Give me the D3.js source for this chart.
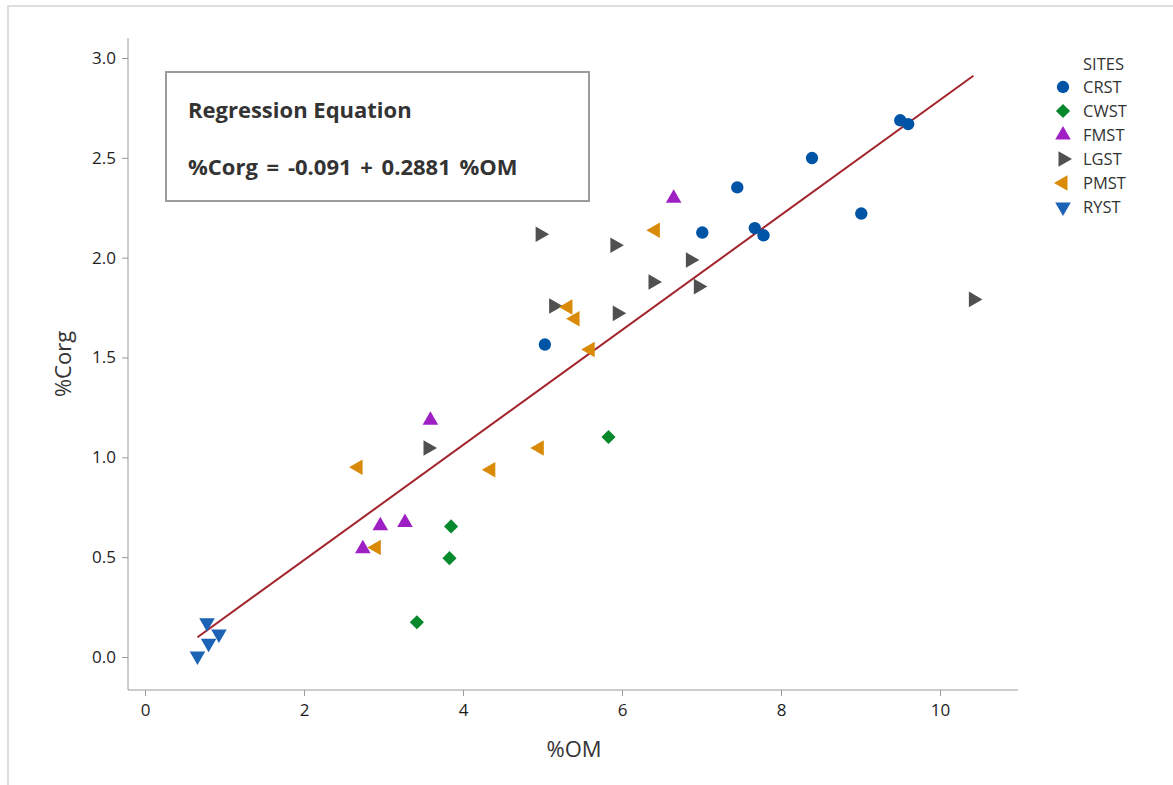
<!DOCTYPE html>
<html>
<head>
<meta charset="utf-8">
<script src="https://cdn.jsdelivr.net/npm/d3@7"></script>
<style>
  body { margin: 0; background: #fff; }
  svg { font-family: "Open Sans", "Noto Sans", sans-serif; }
</style>
</head>
<body>
<svg width="1173" height="785"></svg>
<script>
// data
var sites = ["CRST", "CWST", "FMST", "LGST", "PMST", "RYST"];
var siteColors = ["#0054a6", "#06882c", "#9e1fc4", "#505050", "#d98a06", "#1c62b5"];

var crstOM   = [9.50, 9.60, 8.39, 7.45, 9.01, 7.01, 7.67, 7.78, 5.03];
var crstCorg = [2.688, 2.669, 2.499, 2.352, 2.221, 2.126, 2.148, 2.112, 1.565];
var cwstOM   = [5.83, 3.85, 3.83, 3.42];
var cwstCorg = [1.102, 0.654, 0.495, 0.174];
var fmstOM   = [6.65, 3.59, 3.27, 2.96, 2.74];
var fmstCorg = [2.298, 1.186, 0.674, 0.657, 0.542];
var lgstOM   = [4.97, 5.91, 6.86, 6.39, 6.96, 5.14, 5.94, 3.56, 10.42];
var lgstCorg = [2.117, 2.062, 1.988, 1.878, 1.855, 1.758, 1.721, 1.047, 1.791];
var pmstOM   = [6.42, 5.32, 5.41, 5.60, 2.68, 4.96, 4.35, 2.91];
var pmstCorg = [2.137, 1.753, 1.694, 1.540, 0.950, 1.047, 0.938, 0.548];
var rystOM   = [0.78, 0.93, 0.80, 0.66];
var rystCorg = [0.172, 0.115, 0.069, 0.005];

var intercept = -0.091, slope = 0.2881;
var xTicks = [0, 2, 4, 6, 8, 10];
var yTicks = [0, 0.5, 1, 1.5, 2, 2.5, 3];

var seriesOM = [crstOM, cwstOM, fmstOM, lgstOM, pmstOM, rystOM];
var seriesCorg = [crstCorg, cwstCorg, fmstCorg, lgstCorg, pmstCorg, rystCorg];

// marker shapes per site: [symbol, rotation, size]
var shapes = [
  [d3.symbolCircle, 0, 120],
  [d3.symbolSquare, 45, 100],
  [d3.symbolTriangle, 0, 105],
  [d3.symbolTriangle, 90, 105],
  [d3.symbolTriangle, -90, 105],
  [d3.symbolTriangle, 180, 105]
];

var svg = d3.select("svg");

// light frame round the picture
svg.append("path")
  .attr("d", "M8,785 L8,6 L1173,6")
  .attr("fill", "none")
  .attr("stroke", "#dedede")
  .attr("stroke-width", 2);

var x = d3.scaleLinear().domain([0, 10]).range([145, 940]);
var y = d3.scaleLinear().domain([0, 3]).range([657, 58]);

var axisLeftX = 128, axisBottomY = 690;
var axisColor = "#9a9a9a";

// axes
var gx = svg.append("g").attr("transform", "translate(0," + axisBottomY + ")")
  .call(d3.axisBottom(x).tickValues(xTicks).tickFormat(d3.format("d")).tickSize(6).tickPadding(8));
var gy = svg.append("g").attr("transform", "translate(" + axisLeftX + ",0)")
  .call(d3.axisLeft(y).tickValues(yTicks).tickFormat(d3.format(".1f")).tickSize(6).tickPadding(6));
[gx, gy].forEach(function(g) {
  g.select(".domain").remove();
  g.selectAll(".tick line").attr("stroke", axisColor);
  g.selectAll(".tick text").attr("fill", "#1e1e1e").style("font-size", "17px")
    .style("font-family", "'Open Sans', sans-serif");
});
svg.append("line").attr("x1", axisLeftX).attr("x2", 1018)
  .attr("y1", axisBottomY).attr("y2", axisBottomY).attr("stroke", axisColor);
svg.append("line").attr("x1", axisLeftX).attr("x2", axisLeftX)
  .attr("y1", 38).attr("y2", axisBottomY).attr("stroke", axisColor);

// axis titles
svg.append("text").attr("x", 574).attr("y", 757)
  .attr("text-anchor", "middle").attr("fill", "#333").style("font-size", "22px").text("%OM");
svg.append("text").attr("transform", "translate(71,364) rotate(-90)")
  .attr("text-anchor", "middle").attr("fill", "#333").style("font-size", "22px").text("%Corg");

// regression line across the data range
var allOM = d3.merge(seriesOM);
var lo = d3.min(allOM), hi = d3.max(allOM);
svg.append("line")
  .attr("x1", x(lo)).attr("y1", y(intercept + slope * lo))
  .attr("x2", x(hi)).attr("y2", y(intercept + slope * hi))
  .attr("stroke", "#a3232b").attr("stroke-width", 2);

// points
sites.forEach(function(s, i) {
  var pts = seriesOM[i].map(function(v, j) { return [v, seriesCorg[i][j]]; });
  var sym = d3.symbol().type(shapes[i][0]).size(shapes[i][2]);
  svg.append("g").selectAll("path").data(pts).enter()
    .append("path")
    .attr("d", sym)
    .attr("transform", function(d) {
      return "translate(" + x(d[0]) + "," + y(d[1]) + ") rotate(" + shapes[i][1] + ")";
    })
    .attr("fill", siteColors[i]);
});

// equation box
svg.append("rect").attr("x", 166).attr("y", 72).attr("width", 423).attr("height", 129)
  .attr("fill", "#fff").attr("stroke", "#9c9c9c").attr("stroke-width", 2);
svg.append("text").attr("x", 188).attr("y", 118).attr("fill", "#333")
  .style("font-size", "22px").style("font-weight", "bold").text("Regression Equation");
svg.append("text").attr("x", 188).attr("y", 175).attr("fill", "#333")
  .style("font-size", "22px").style("font-weight", "bold").style("word-spacing", "3px")
  .text("%Corg = " + intercept + " + " + slope + " %OM");

// legend
var legend = svg.append("g");
legend.append("text").attr("x", 1083).attr("y", 70).attr("fill", "#333")
  .style("font-size", "16.5px").text("SITES");
sites.forEach(function(s, i) {
  var cy = 87 + i * 24;
  legend.append("path")
    .attr("d", d3.symbol().type(shapes[i][0]).size(shapes[i][2]))
    .attr("transform", "translate(1063," + cy + ") rotate(" + shapes[i][1] + ")")
    .attr("fill", siteColors[i]);
  legend.append("text").attr("x", 1083).attr("y", cy + 6).attr("fill", "#333")
    .style("font-size", "16.5px").text(s);
});
</script>
</body>
</html>
